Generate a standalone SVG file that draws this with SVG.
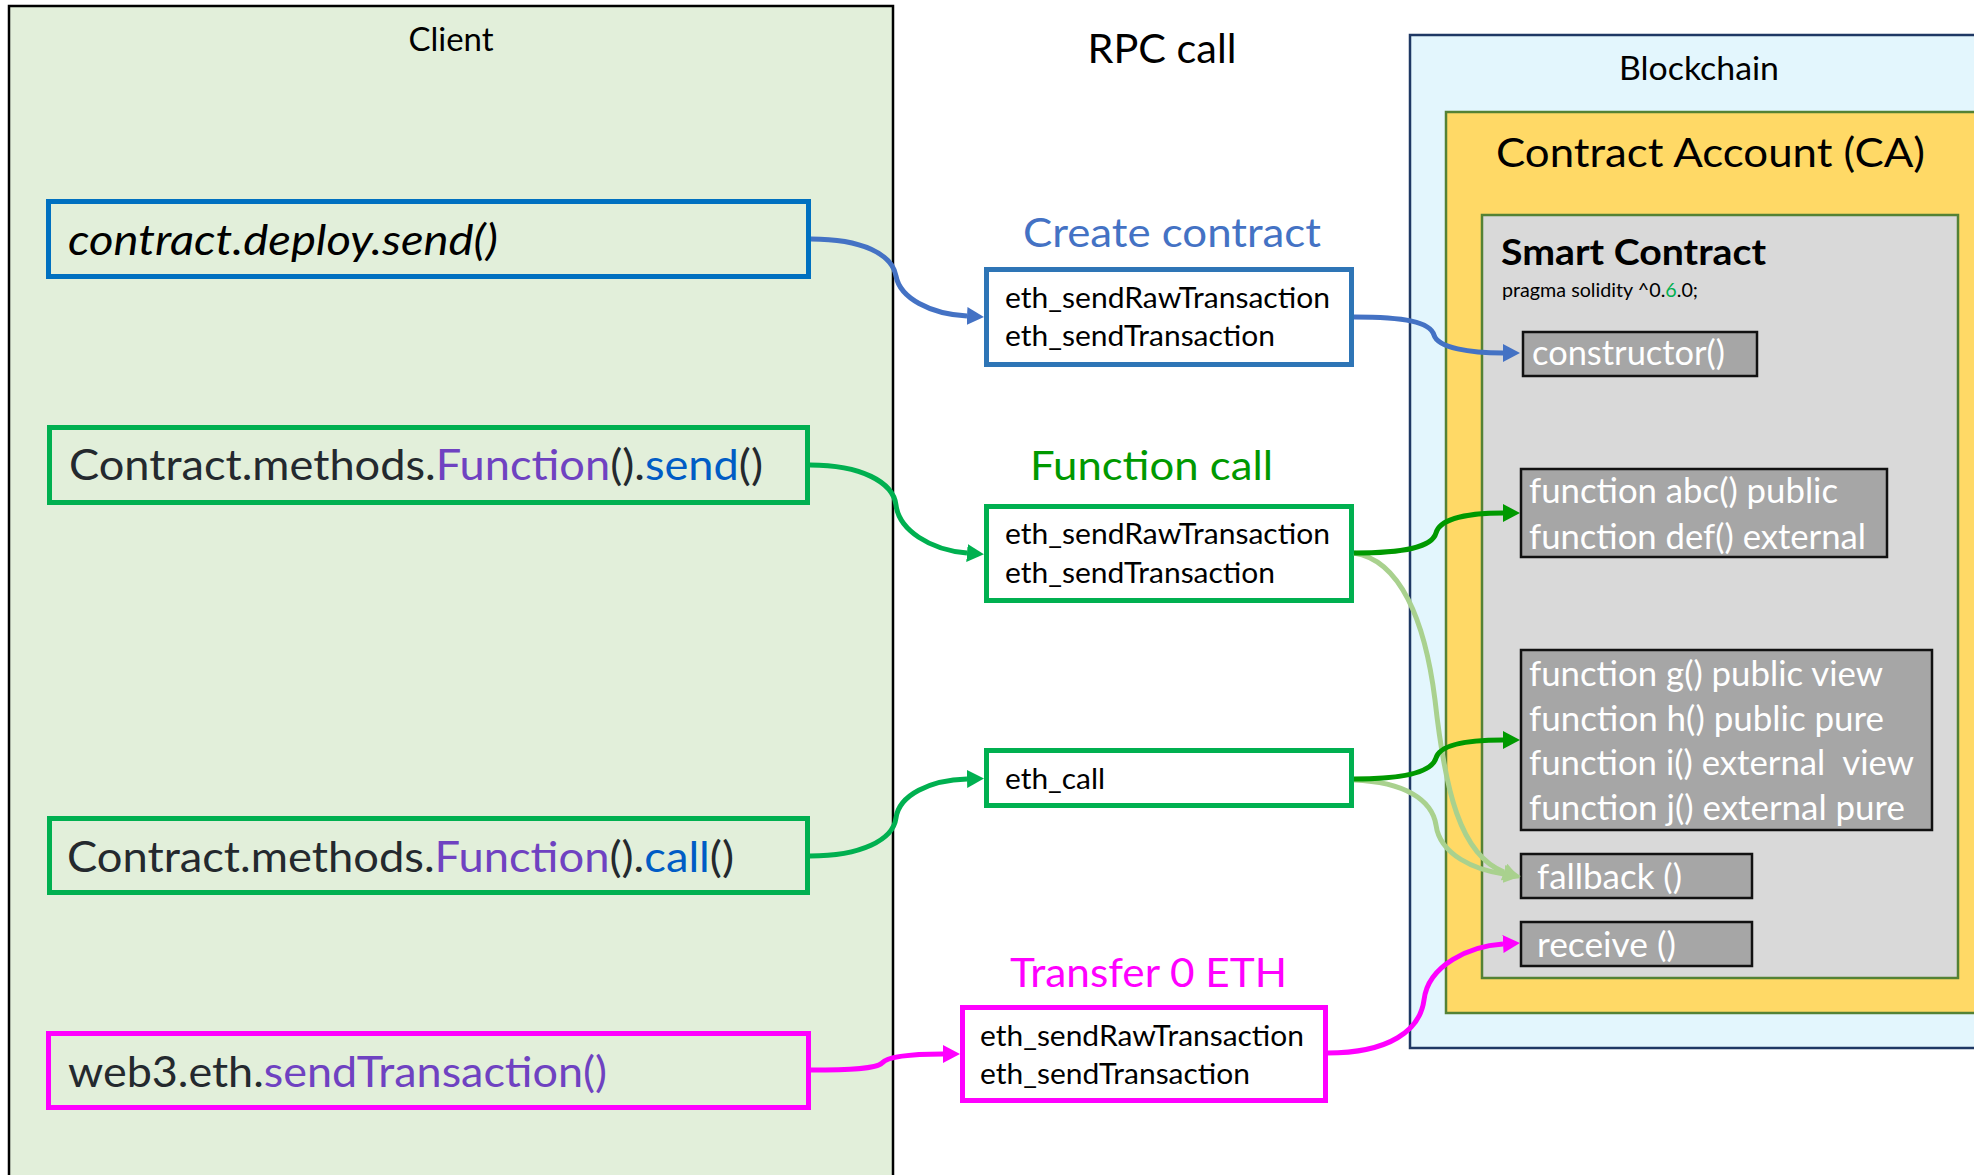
<svg xmlns="http://www.w3.org/2000/svg" width="1974" height="1175" viewBox="0 0 1974 1175">
  <style>
    text { font-family: Lato, "Liberation Sans", sans-serif; }
    .code { font-size: 42px; fill: #24292E; }
    .fn { fill: #6F42C1; }
    .mth { fill: #005CC5; }
    .rpc { font-size: 29px; fill: #000; }
    .lbl { font-size: 41px; }
    .title { font-size: 32px; fill: #000; }
    .func { font-size: 34px; fill: #FFFFFF; }
    .fbox { fill: #A6A6A6; stroke: #111; stroke-width: 2.5; }
    .cbox { fill: none; stroke-width: 5; }
    .wbox { fill: #FFFFFF; stroke-width: 5; }
    .link { fill: none; stroke-width: 5; }
  </style>
  <defs>
    <marker id="ahBlue" markerUnits="userSpaceOnUse" markerWidth="17" markerHeight="18" viewBox="0 0 17 18" refX="0" refY="9" orient="auto">
      <path d="M0,0 L17,9 L0,18 z" fill="#4472C4"/>
    </marker>
    <marker id="ahGreen" markerUnits="userSpaceOnUse" markerWidth="17" markerHeight="18" viewBox="0 0 17 18" refX="0" refY="9" orient="auto">
      <path d="M0,0 L17,9 L0,18 z" fill="#00B050"/>
    </marker>
    <marker id="ahDark" markerUnits="userSpaceOnUse" markerWidth="17" markerHeight="18" viewBox="0 0 17 18" refX="0" refY="9" orient="auto">
      <path d="M0,0 L17,9 L0,18 z" fill="#009900"/>
    </marker>
    <marker id="ahLight" markerUnits="userSpaceOnUse" markerWidth="17" markerHeight="18" viewBox="0 0 17 18" refX="0" refY="9" orient="auto">
      <path d="M0,0 L17,9 L0,18 z" fill="#A9D18E"/>
    </marker>
    <marker id="ahPink" markerUnits="userSpaceOnUse" markerWidth="17" markerHeight="18" viewBox="0 0 17 18" refX="0" refY="9" orient="auto">
      <path d="M0,0 L17,9 L0,18 z" fill="#FF00FF"/>
    </marker>
  </defs>

  <rect width="1974" height="1175" fill="#FFFFFF"/>

  <!-- Client side -->
  <g id="client">
    <rect x="9" y="6" width="884" height="1200" fill="#E2EFDA" stroke="#000" stroke-width="2.5"/>
    <text class="title" x="451" y="51" text-anchor="middle" textLength="85" lengthAdjust="spacingAndGlyphs">Client</text>
  </g>

  <g id="deploy-send">
    <rect class="cbox" x="48.5" y="201.5" width="760" height="75" stroke="#0070C0"/>
    <text class="code" x="68" y="255" font-style="italic" style="fill:#000" textLength="430" lengthAdjust="spacingAndGlyphs">contract.deploy.send()</text>
  </g>

  <g id="methods-send">
    <rect class="cbox" x="49.5" y="427.5" width="758" height="75" stroke="#00B050"/>
    <text class="code" x="69" y="480" textLength="694" lengthAdjust="spacingAndGlyphs">Contract.methods.<tspan class="fn">Function</tspan>().<tspan class="mth">send</tspan>()</text>
  </g>

  <g id="methods-call">
    <rect class="cbox" x="49.5" y="818.5" width="758" height="74" stroke="#00B050"/>
    <text class="code" x="67" y="872" textLength="667" lengthAdjust="spacingAndGlyphs">Contract.methods.<tspan class="fn">Function</tspan>().<tspan class="mth">call</tspan>()</text>
  </g>

  <g id="web3-send">
    <rect class="cbox" x="48.5" y="1033.5" width="760" height="74" stroke="#FF00FF"/>
    <text class="code" x="68" y="1087" textLength="539" lengthAdjust="spacingAndGlyphs">web3.eth.<tspan class="fn">sendTransaction()</tspan></text>
  </g>

  <!-- RPC layer -->
  <g id="rpc-title">
    <text class="lbl" x="1162" y="63" text-anchor="middle" fill="#000" textLength="149" lengthAdjust="spacingAndGlyphs">RPC call</text>
  </g>

  <g id="rpc-create">
    <text class="lbl" x="1023" y="247" fill="#4472C4" textLength="298" lengthAdjust="spacingAndGlyphs">Create contract</text>
    <rect class="wbox" x="986.5" y="269.5" width="365" height="95" stroke="#2E75B6"/>
    <text class="rpc" x="1005" y="308" textLength="325" lengthAdjust="spacingAndGlyphs">eth_sendRawTransaction</text>
    <text class="rpc" x="1005" y="346" textLength="270" lengthAdjust="spacingAndGlyphs">eth_sendTransaction</text>
  </g>

  <g id="rpc-function">
    <text class="lbl" x="1030" y="480" fill="#009900" textLength="243" lengthAdjust="spacingAndGlyphs">Function call</text>
    <rect class="wbox" x="986.5" y="506.5" width="365" height="94" stroke="#00B050"/>
    <text class="rpc" x="1005" y="544" textLength="325" lengthAdjust="spacingAndGlyphs">eth_sendRawTransaction</text>
    <text class="rpc" x="1005" y="583" textLength="270" lengthAdjust="spacingAndGlyphs">eth_sendTransaction</text>
  </g>

  <g id="rpc-call">
    <rect class="wbox" x="986.5" y="750.5" width="365" height="55" stroke="#00B050"/>
    <text class="rpc" x="1005" y="789" textLength="100" lengthAdjust="spacingAndGlyphs">eth_call</text>
  </g>

  <g id="rpc-transfer">
    <text class="lbl" x="1010" y="987" fill="#FF00FF" textLength="277" lengthAdjust="spacingAndGlyphs">Transfer 0 ETH</text>
    <rect class="wbox" x="962.5" y="1007.5" width="363" height="93" stroke="#FF00FF"/>
    <text class="rpc" x="980" y="1046" textLength="324" lengthAdjust="spacingAndGlyphs">eth_sendRawTransaction</text>
    <text class="rpc" x="980" y="1084" textLength="270" lengthAdjust="spacingAndGlyphs">eth_sendTransaction</text>
  </g>

  <!-- Blockchain side -->
  <g id="blockchain">
    <rect x="1410" y="35" width="700" height="1013" fill="#E3F6FD" stroke="#1F3864" stroke-width="2.5"/>
    <text class="title" x="1699" y="80" text-anchor="middle" textLength="160" lengthAdjust="spacingAndGlyphs">Blockchain</text>
  </g>

  <g id="contract-account">
    <rect x="1446" y="112" width="600" height="901" fill="#FFD966" stroke="#548235" stroke-width="2.5"/>
    <text class="lbl" x="1496" y="167" fill="#000" textLength="429" lengthAdjust="spacingAndGlyphs">Contract Account (CA)</text>
  </g>

  <g id="smart-contract">
    <rect x="1482" y="215" width="476" height="763" fill="#D9D9D9" stroke="#548235" stroke-width="2.5"/>
    <text x="1501" y="265" font-size="36" font-weight="bold" fill="#000" textLength="265" lengthAdjust="spacingAndGlyphs">Smart Contract</text>
    <text x="1502" y="297" font-size="19" fill="#000" textLength="196" lengthAdjust="spacingAndGlyphs">pragma solidity ^0.<tspan fill="#00B050">6</tspan>.0;</text>
  </g>

  <g id="fn-constructor">
    <rect class="fbox" x="1523" y="332" width="234" height="44"/>
    <text class="func" x="1532" y="365" textLength="193" lengthAdjust="spacingAndGlyphs">constructor()</text>
  </g>

  <g id="fn-state">
    <rect class="fbox" x="1521" y="469" width="366" height="88"/>
    <text class="func" x="1529" y="503" textLength="309" lengthAdjust="spacingAndGlyphs">function abc() public</text>
    <text class="func" x="1529" y="549" textLength="337" lengthAdjust="spacingAndGlyphs">function def() external</text>
  </g>

  <g id="fn-readonly">
    <rect class="fbox" x="1521" y="650" width="411" height="180"/>
    <text class="func" x="1529" y="686" textLength="354" lengthAdjust="spacingAndGlyphs">function g() public view</text>
    <text class="func" x="1529" y="731" textLength="355" lengthAdjust="spacingAndGlyphs">function h() public pure</text>
    <text class="func" x="1529" y="775" textLength="385" lengthAdjust="spacingAndGlyphs" xml:space="preserve">function i() external  view</text>
    <text class="func" x="1529" y="820" textLength="376" lengthAdjust="spacingAndGlyphs">function j() external pure</text>
  </g>

  <g id="fn-fallback">
    <rect class="fbox" x="1521" y="854" width="231" height="44"/>
    <text class="func" x="1537" y="889" textLength="145" lengthAdjust="spacingAndGlyphs">fallback ()</text>
  </g>

  <g id="fn-receive">
    <rect class="fbox" x="1521" y="922" width="231" height="44"/>
    <text class="func" x="1537" y="957" textLength="139" lengthAdjust="spacingAndGlyphs">receive ()</text>
  </g>

  <!-- Connectors -->
  <g id="connectors">
    <path class="link" stroke="#4472C4" marker-end="url(#ahBlue)" d="M811,239 C862,239 892,254 896,276 C900,298 930,314 967,316"/>
    <path class="link" stroke="#4472C4" marker-end="url(#ahBlue)" d="M1354,317 C1405,317 1430,322 1434,335 C1438,348 1470,353 1503,353"/>

    <path class="link" stroke="#00B050" marker-end="url(#ahGreen)" d="M810,465 C861,465 893,482 896,505 C899,530 930,550 967,553"/>
    <path class="link" stroke="#00B050" marker-end="url(#ahGreen)" d="M810,856 C861,856 893,840 896,818 C899,795 930,780 967,779"/>

    <path class="link" stroke="#A9D18E" stroke-width="4" marker-end="url(#ahLight)" d="M1354,553 C1400,560 1425,620 1435,700 C1445,790 1460,855 1504,872"/>
    <path class="link" stroke="#A9D18E" stroke-width="4" marker-end="url(#ahLight)" d="M1354,780 C1405,782 1432,800 1436,825 C1440,855 1475,870 1504,874"/>

    <path class="link" stroke="#009900" marker-end="url(#ahDark)" d="M1354,553 C1405,553 1432,547 1436,533 C1440,518 1470,513 1503,513"/>
    <path class="link" stroke="#009900" marker-end="url(#ahDark)" d="M1354,779 C1405,779 1432,772 1436,758 C1440,744 1470,740 1503,740"/>

    <path class="link" stroke="#FF00FF" marker-end="url(#ahPink)" d="M810,1070 C850,1070 876,1069 882,1063 C888,1056 915,1054 943,1054"/>
    <path class="link" stroke="#FF00FF" marker-end="url(#ahPink)" d="M1327,1053 C1390,1053 1420,1030 1424,1000 C1428,965 1470,946 1503,944"/>
  </g>
</svg>
